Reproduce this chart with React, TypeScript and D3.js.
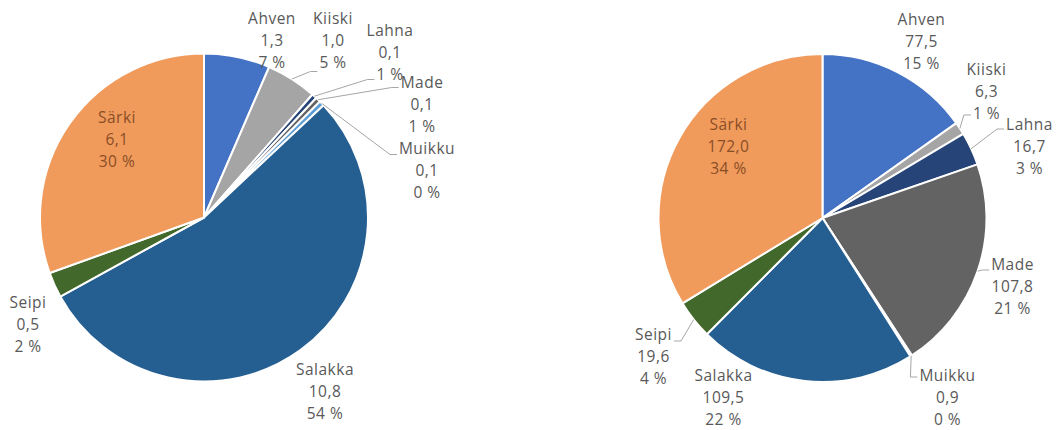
import React, { useEffect, useRef } from 'react'
import * as d3 from 'd3'

const species = ['Ahven', 'Kiiski', 'Lahna', 'Made', 'Muikku', 'Salakka', 'Seipi', 'Särki']
const colors = ['#4472C4', '#A5A5A5', '#264478', '#636363', '#5B9BD5', '#255E91', '#43682B', '#F09A5C']

// left pie
const leftValues = [1.3, 1.0, 0.1, 0.1, 0.1, 10.8, 0.5, 6.1]
const leftPct = [7, 5, 1, 1, 0, 54, 2, 30]

// right pie
const rightValues = [77.5, 6.3, 16.7, 107.8, 0.9, 109.5, 19.6, 172.0]
const rightPct = [15, 1, 3, 21, 0, 22, 4, 34]

// label placement, offsets from pie centre (middle line of each label)
const leftLabelPos = [[68, -177], [129, -177], [186, -165], [218, -113], [223, -47], [121, 174], [-176, 107], [-87, -78]]
const rightLabelPos = [[99, -176], [164, -126], [207, -71], [190, 69], [125, 180], [-99, 180], [-169, 139], [-94, -71]]

// leader lines: index of species, which text line, vertical nudge
const leftLeaders = [
  { i: 1, line: 2, dy: 9 },
  { i: 2, line: 2, dy: 5 },
  { i: 3, line: 0, dy: 5 },
  { i: 4, line: 0, dy: 6 }
]
const rightLeaders = [
  { i: 1, line: 2, dy: 1 },
  { i: 2, line: 0, dy: 4 },
  { i: 3, line: 0, dy: 5 },
  { i: 4, line: 0, dy: 1 },
  { i: 6, line: 0, dy: 6 }
]

const fmt = (v: number) => d3.format('.1f')(v).replace('.', ',')

const pies = [
  { cx: 204, cy: 217.5, values: leftValues, pct: leftPct, labels: leftLabelPos, leaders: leftLeaders },
  { cx: 822.5, cy: 218, values: rightValues, pct: rightPct, labels: rightLabelPos, leaders: rightLeaders }
]

export default function App() {
  const ref = useRef<SVGSVGElement>(null)

  useEffect(() => {
    const svg = d3.select(ref.current)
    svg.selectAll('*').remove()

    const radius = 164
    const lineH = 22

    pies.forEach(p => {
      const data = species.map((name, i) => ({ name, value: p.values[i], pct: p.pct[i], i }))
      const arcs = d3.pie<any>().sort(null).value(d => d.value)(data)
      const arc = d3.arc<any>().innerRadius(0).outerRadius(radius)

      const g = svg.append('g').attr('transform', 'translate(' + p.cx + ',' + p.cy + ')')

      g.selectAll('path.slice')
        .data(arcs)
        .enter()
        .append('path')
        .attr('class', 'slice')
        .attr('d', arc)
        .attr('fill', d => colors[d.data.i])
        .attr('stroke', '#fff')
        .attr('stroke-width', 2)
        .attr('stroke-linejoin', 'round')

      // labels
      const labelG = g.append('g')
      const textEls: any[] = []
      arcs.forEach(a => {
        const [lx, ly] = p.labels[a.data.i]
        const inside = a.data.name === 'Särki'
        const t = labelG.append('text')
          .attr('text-anchor', 'middle')
          .style('font-family', '"Open Sans", sans-serif')
          .style('font-size', '15.5px')
          .style('letter-spacing', '0.5px')
          .style('fill', inside ? '#8a4e26' : '#595959')
        const lines = [a.data.name, fmt(a.data.value), a.data.pct + ' %']
        lines.forEach((s, k) => {
          t.append('tspan')
            .attr('x', lx)
            .attr('y', ly + (k - 1) * lineH)
            .attr('dy', '0.35em')
            .text(s)
        })
        textEls[a.data.i] = t
      })

      // leader lines
      p.leaders.forEach(l => {
        const a = arcs[l.i]
        const mid = (a.startAngle + a.endAngle) / 2
        const sx = Math.sin(mid) * radius
        const sy = -Math.cos(mid) * radius
        const [lx, ly] = p.labels[l.i]
        const tspan = textEls[l.i].selectAll('tspan').nodes()[l.line] as SVGTSpanElement
        const w = tspan.getComputedTextLength()
        const onLeft = lx < 0
        const ex = onLeft ? lx + w / 2 + 2 : lx - w / 2 - 2
        const ey = ly + (l.line - 1) * lineH + l.dy
        const bx = onLeft ? ex + 7 : ex - 7
        g.append('polyline')
          .attr('points', [[sx, sy], [bx, ey], [ex, ey]].map(q => q.join(',')).join(' '))
          .attr('fill', 'none')
          .attr('stroke', '#a6a6a6')
          .attr('stroke-width', 1)
      })
    })
  }, [])

  return (
    <svg
      ref={ref}
      width={1060}
      height={430}
      style={{ position: 'absolute', left: 0, top: 0, background: '#fff' }}
    />
  )
}
